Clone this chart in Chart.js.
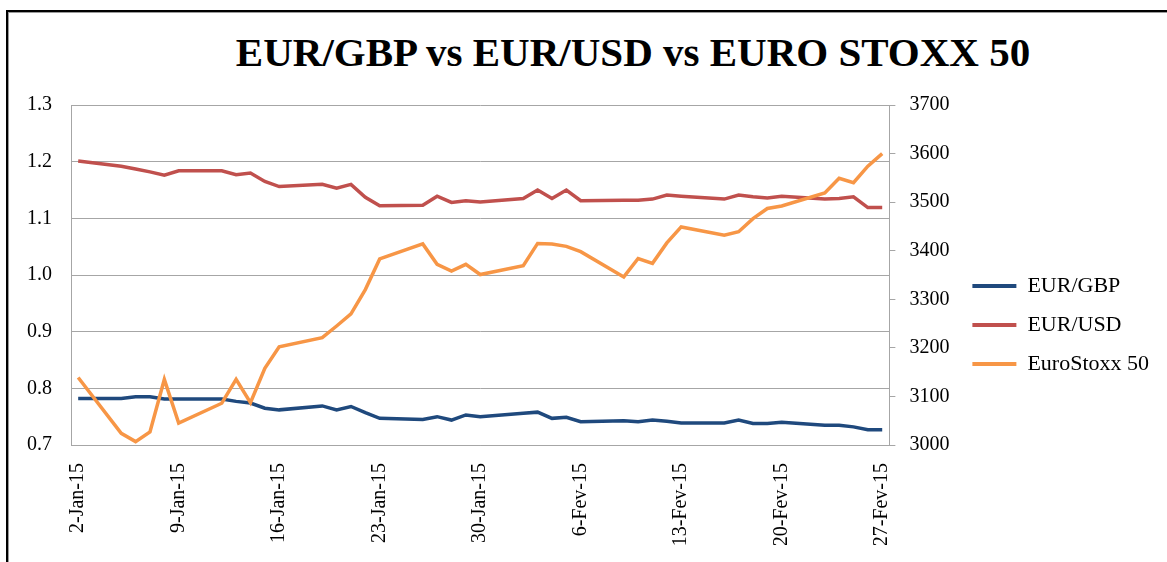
<!DOCTYPE html>
<html>
<head>
<meta charset="utf-8">
<script src="https://cdn.jsdelivr.net/npm/chart.js@4"></script>
<style>
  html, body { margin: 0; padding: 0; background: #fff; overflow: hidden; }
  body { width: 1167px; height: 562px; position: relative; }
  #frame {
    position: absolute; left: 6px; top: 10px; width: 1200px; height: 600px;
    border-left: 2px solid #000; border-top: 2px solid #000;
    box-shadow: inset 1px 1px 0 #9a9a9a;
  }
  #title {
    position: absolute; left: 0; top: 31px; width: 1266px; text-align: center;
    font: bold 41px/42px "Liberation Serif", "Times New Roman", serif; color: #000;
  }
  #box { position: absolute; left: 8px; top: 12px; width: 1159px; height: 550px; }
</style>
</head>
<body>
<div id="frame"></div>
<div id="title">EUR/GBP vs EUR/USD vs EURO STOXX 50</div>
<div id="box"><canvas id="fxChart"></canvas></div>
<script>
// calendar days on the axis (Excel date axis, one slot per day)
var days = [
  "2-Jan-15", "3-Jan-15", "4-Jan-15", "5-Jan-15", "6-Jan-15", "7-Jan-15", "8-Jan-15",
  "9-Jan-15", "10-Jan-15", "11-Jan-15", "12-Jan-15", "13-Jan-15", "14-Jan-15", "15-Jan-15",
  "16-Jan-15", "17-Jan-15", "18-Jan-15", "19-Jan-15", "20-Jan-15", "21-Jan-15", "22-Jan-15",
  "23-Jan-15", "24-Jan-15", "25-Jan-15", "26-Jan-15", "27-Jan-15", "28-Jan-15", "29-Jan-15",
  "30-Jan-15", "31-Jan-15", "1-Fev-15", "2-Fev-15", "3-Fev-15", "4-Fev-15", "5-Fev-15",
  "6-Fev-15", "7-Fev-15", "8-Fev-15", "9-Fev-15", "10-Fev-15", "11-Fev-15", "12-Fev-15",
  "13-Fev-15", "14-Fev-15", "15-Fev-15", "16-Fev-15", "17-Fev-15", "18-Fev-15", "19-Fev-15",
  "20-Fev-15", "21-Fev-15", "22-Fev-15", "23-Fev-15", "24-Fev-15", "25-Fev-15", "26-Fev-15",
  "27-Fev-15"
];
var tickLabels = ["2-Jan-15", "9-Jan-15", "16-Jan-15", "23-Jan-15", "30-Jan-15",
  "6-Fev-15", "13-Fev-15", "20-Fev-15", "27-Fev-15"];

// trading days with a quote
var tradingDays = [
  "2-Jan-15",
  "5-Jan-15", "6-Jan-15", "7-Jan-15", "8-Jan-15", "9-Jan-15",
  "12-Jan-15", "13-Jan-15", "14-Jan-15", "15-Jan-15", "16-Jan-15",
  "19-Jan-15", "20-Jan-15", "21-Jan-15", "22-Jan-15", "23-Jan-15",
  "26-Jan-15", "27-Jan-15", "28-Jan-15", "29-Jan-15", "30-Jan-15",
  "2-Fev-15", "3-Fev-15", "4-Fev-15", "5-Fev-15", "6-Fev-15",
  "9-Fev-15", "10-Fev-15", "11-Fev-15", "12-Fev-15", "13-Fev-15",
  "16-Fev-15", "17-Fev-15", "18-Fev-15", "19-Fev-15", "20-Fev-15",
  "23-Fev-15", "24-Fev-15", "25-Fev-15", "26-Fev-15", "27-Fev-15"
];

var eurGbp = [
  0.782,
  0.782, 0.785, 0.785, 0.781, 0.781,
  0.781, 0.777, 0.774, 0.765, 0.762,
  0.769, 0.762, 0.768, 0.757, 0.747,
  0.745, 0.750, 0.744, 0.753, 0.750,
  0.756, 0.758, 0.747, 0.749, 0.741,
  0.743, 0.741, 0.744, 0.742, 0.739,
  0.739, 0.744, 0.738, 0.738, 0.740,
  0.735, 0.735, 0.732, 0.727, 0.727
];
var eurUsd = [
  1.201,
  1.192, 1.187, 1.182, 1.176, 1.184,
  1.184, 1.177, 1.180, 1.165, 1.156,
  1.160, 1.153, 1.160, 1.137, 1.122,
  1.123, 1.139, 1.128, 1.131, 1.129,
  1.135, 1.150, 1.135, 1.150, 1.131,
  1.132, 1.132, 1.134, 1.141, 1.139,
  1.134, 1.141, 1.138, 1.136, 1.139,
  1.134, 1.135, 1.138, 1.119, 1.119
];
var euroStoxx = [
  3139,
  3024, 3007, 3027, 3135, 3045,
  3086, 3135, 3087, 3158, 3202,
  3221, 3245, 3270, 3320, 3383,
  3414, 3372, 3358, 3372, 3351,
  3369, 3415, 3414, 3409, 3398,
  3346, 3384, 3374, 3416, 3449,
  3432, 3439, 3466, 3487, 3492,
  3519, 3549, 3540, 3574, 3600
];

function toPoints(values) {
  return tradingDays.map(function (d, i) {
    return { x: d, y: values[i] };
  });
}

var serif = "'Liberation Serif', 'Times New Roman', serif";
Chart.defaults.font.family = serif;
Chart.defaults.font.size = 20;
Chart.defaults.color = "#000";

var gridGrey = "#a6a6a6";

new Chart(document.getElementById("fxChart").getContext("2d"), {
  type: "line",
  data: {
    labels: days,
    datasets: [
      {
        label: "EUR/GBP",
        data: toPoints(eurGbp),
        yAxisID: "y",
        borderColor: "#1f497d",
        backgroundColor: "#1f497d",
        borderWidth: 3.5,
        pointRadius: 0,
        tension: 0,
        order: 2,
      },
      {
        label: "EUR/USD",
        data: toPoints(eurUsd),
        yAxisID: "y",
        borderColor: "#c0504d",
        backgroundColor: "#c0504d",
        borderWidth: 3.5,
        pointRadius: 0,
        tension: 0,
        order: 1,
      },
      {
        label: "EuroStoxx 50",
        data: toPoints(euroStoxx),
        yAxisID: "y2",
        borderColor: "#f79646",
        backgroundColor: "#f79646",
        borderWidth: 3.5,
        pointRadius: 0,
        tension: 0,
        order: 0,
      },
    ],
  },
  options: {
    responsive: true,
    maintainAspectRatio: false,
    animation: false,
    layout: {
      padding: { left: 19, top: 93, right: 8, bottom: 17 },
    },
    plugins: {
      tooltip: { enabled: false },
      legend: {
        position: "right",
        maxWidth: 230,
        labels: {
          boxWidth: 44,
          boxHeight: 4,
          padding: 17,
          font: { size: 22 },
          sort: function (a, b) {
            return a.datasetIndex - b.datasetIndex;
          },
          generateLabels: function (chart) {
            return Chart.defaults.plugins.legend.labels
              .generateLabels(chart)
              .map(function (item) {
                item.lineWidth = 0;
                item.fillStyle = item.strokeStyle;
                return item;
              });
          },
        },
      },
    },
    scales: {
      x: {
        type: "category",
        offset: true,
        grid: { display: false },
        border: { display: true, color: gridGrey, width: 1 },
        ticks: {
          autoSkip: false,
          minRotation: 90,
          maxRotation: 90,
          padding: 10,
          callback: function (val) {
            var lbl = this.getLabelForValue(val);
            return tickLabels.indexOf(lbl) >= 0 ? lbl : null;
          },
        },
        afterFit: function (scale) {
          scale.height = 100;
        },
      },
      y: {
        position: "left",
        min: 0.7,
        max: 1.3,
        grid: { color: gridGrey, lineWidth: 1, drawTicks: false },
        border: { display: true, color: gridGrey, width: 1 },
        ticks: {
          stepSize: 0.1,
          padding: 19,
          callback: function (v) {
            return v.toFixed(1);
          },
        },
        afterFit: function (scale) {
          scale.width = 44;
        },
      },
      y2: {
        position: "right",
        min: 3000,
        max: 3700,
        grid: { drawOnChartArea: false, color: gridGrey, tickLength: 6 },
        border: { display: true, color: gridGrey, width: 1 },
        ticks: {
          stepSize: 100,
          padding: 14,
          callback: function (v) {
            return String(v);
          },
        },
        afterFit: function (scale) {
          scale.width = 66;
        },
      },
    },
  },
});
</script>
</body>
</html>
